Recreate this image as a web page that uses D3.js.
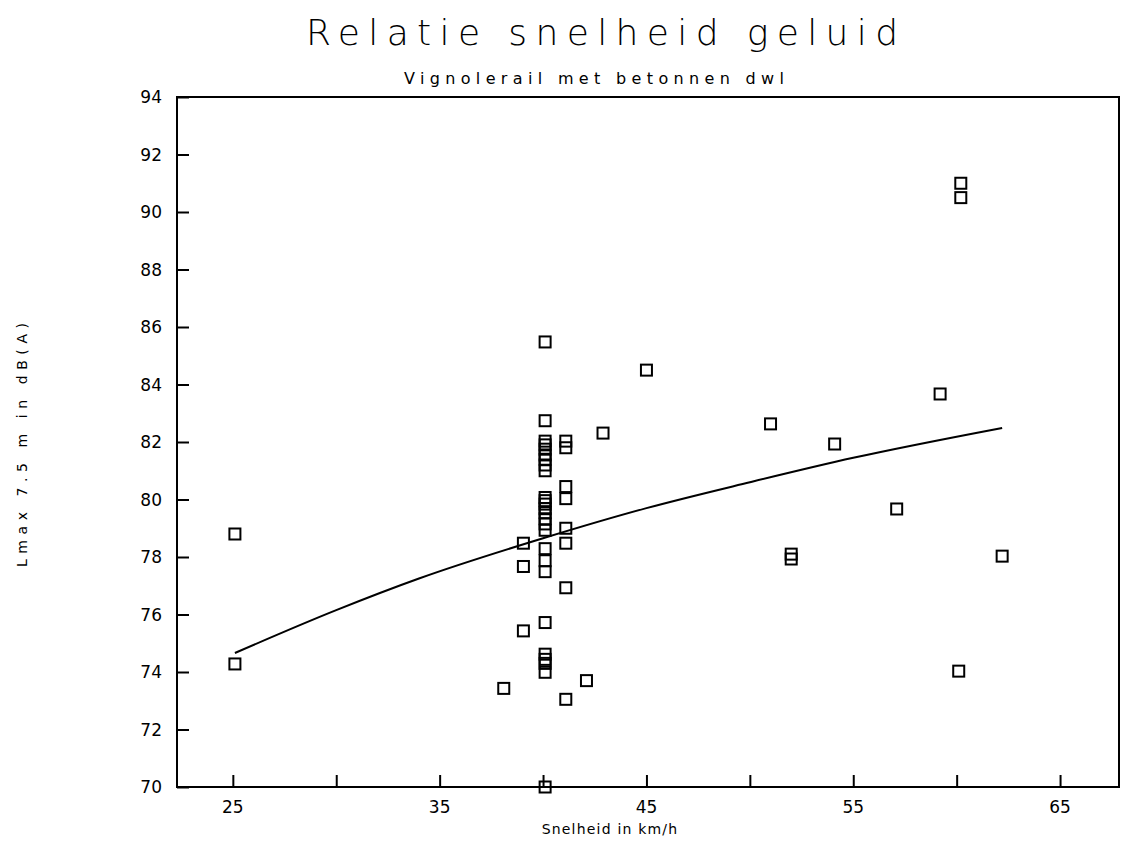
<!DOCTYPE html>
<html>
<head>
<meta charset="utf-8">
<script src="https://cdn.jsdelivr.net/npm/d3@7"></script>
<style>
  body { margin: 0; background: #fff; }
  text { font-family: "DejaVu Sans", sans-serif; fill: #000; }
</style>
</head>
<body>
<svg id="chart" width="1122" height="861"></svg>
<script>
// measurements: speed (km/h) and Lmax (dB(A))
var speeds = [25.1, 25.1, 38.1, 39.05, 39.05, 39.05,
              40.1, 40.1, 40.1, 40.1, 40.1, 40.1, 40.1, 40.1, 40.1,
              40.1, 40.1, 40.1, 40.1, 40.1, 40.1, 40.1, 40.1,
              40.1, 40.1, 40.1, 40.1, 40.1, 40.1, 40.1, 40.1, 40.1,
              41.1, 41.1, 41.1, 41.1, 41.1, 41.1, 41.1, 41.1,
              42.1, 42.9, 45.0, 51.0, 52.0, 52.0, 54.1, 57.1, 59.2,
              60.2, 60.2, 60.1, 62.2];
var levels = [78.8, 74.28, 73.43, 78.48, 77.67, 75.43,
              85.48, 82.74, 82.03, 81.9, 81.75, 81.55, 81.4, 81.2, 81.0,
              80.07, 79.96, 79.84, 79.68, 79.54, 79.33, 79.15, 78.93,
              78.29, 77.87, 77.49, 75.72, 74.62, 74.44, 74.3, 73.99, 70.0,
              82.03, 81.8, 80.45, 80.03, 79.0, 78.48, 76.93, 73.05,
              73.7, 82.31, 84.5, 82.63, 78.1, 77.93, 81.93, 79.67, 83.67,
              91.0, 90.5, 74.03, 78.03];

var fitX = [25.1, 30, 34, 40, 45, 50, 55, 62.2];
var fitY = [74.66, 76.15, 77.25, 78.65, 79.7, 80.6, 81.45, 82.49];

var xTicks = [25, 30, 35, 40, 45, 50, 55, 60, 65];
var xLabels = [25, 35, 45, 55, 65];
var yTicks = [70, 72, 74, 76, 78, 80, 82, 84, 86, 88, 90, 92, 94];

var svg = d3.select("#chart"),
    marginLeft = 177,
    marginTop = 97,
    width = 942,
    height = 690;

var xScale = d3.scaleLinear().domain([22.3, 67.85]).range([0, width]),
    yScale = d3.scaleLinear().domain([70, 94]).range([height, 0]);

var points = speeds.map(function(s, i) { return {x: s, y: levels[i]}; });
var fit = fitX.map(function(s, i) { return {x: s, y: fitY[i]}; });

svg.append("text")
    .attr("x", 602)
    .attr("y", 45)
    .attr("text-anchor", "middle")
    .attr("font-size", 36)
    .attr("font-weight", 200)
    .attr("textLength", 592)
    .attr("lengthAdjust", "spacing")
    .text("Relatie snelheid geluid");

svg.append("text")
    .attr("x", 594)
    .attr("y", 84)
    .attr("text-anchor", "middle")
    .attr("font-size", 16)
    .attr("textLength", 380)
    .attr("lengthAdjust", "spacing")
    .text("Vignolerail met betonnen dwl");

var g = svg.append("g")
    .attr("transform", "translate(" + marginLeft + "," + marginTop + ")");

g.append("rect")
    .attr("width", width)
    .attr("height", height)
    .attr("fill", "none")
    .attr("stroke", "#000")
    .attr("stroke-width", 2);

// ticks point inward
g.append("g")
    .attr("transform", "translate(0," + height + ")")
    .call(d3.axisTop(xScale).tickValues(xTicks).tickSize(12).tickFormat(""))
    .call(function(a) { a.select(".domain").remove(); })
    .selectAll("line").attr("stroke-width", 2);

g.append("g")
    .call(d3.axisRight(yScale).tickValues(yTicks).tickSize(12).tickFormat(""))
    .call(function(a) { a.select(".domain").remove(); })
    .selectAll("line").attr("stroke-width", 2);

g.selectAll(".xlab")
    .data(xLabels)
    .enter().append("text")
    .attr("class", "xlab")
    .attr("x", function(d) { return xScale(d); })
    .attr("y", height + 26)
    .attr("text-anchor", "middle")
    .attr("font-size", 17)
    .text(function(d) { return d; });

g.selectAll(".ylab")
    .data(yTicks)
    .enter().append("text")
    .attr("class", "ylab")
    .attr("x", -15)
    .attr("y", function(d) { return yScale(d) + 6; })
    .attr("text-anchor", "end")
    .attr("font-size", 17)
    .text(function(d) { return d; });

svg.append("text")
    .attr("x", 610)
    .attr("y", 834)
    .attr("text-anchor", "middle")
    .attr("font-size", 14)
    .attr("letter-spacing", 1.2)
    .text("Snelheid in km/h");

svg.append("text")
    .attr("transform", "translate(27,445) rotate(-90)")
    .attr("text-anchor", "middle")
    .attr("font-size", 14)
    .attr("textLength", 244)
    .attr("lengthAdjust", "spacing")
    .text("Lmax 7.5 m in dB(A)");

g.append("path")
    .datum(fit)
    .attr("fill", "none")
    .attr("stroke", "#000")
    .attr("stroke-width", 2)
    .attr("d", d3.line()
        .curve(d3.curveMonotoneX)
        .x(function(d) { return xScale(d.x); })
        .y(function(d) { return yScale(d.y); }));

g.selectAll(".pt")
    .data(points)
    .enter().append("rect")
    .attr("class", "pt")
    .attr("x", function(d) { return xScale(d.x) - 5.5; })
    .attr("y", function(d) { return yScale(d.y) - 5.5; })
    .attr("width", 11)
    .attr("height", 11)
    .attr("fill", "none")
    .attr("stroke", "#000")
    .attr("stroke-width", 2);
</script>
</body>
</html>
